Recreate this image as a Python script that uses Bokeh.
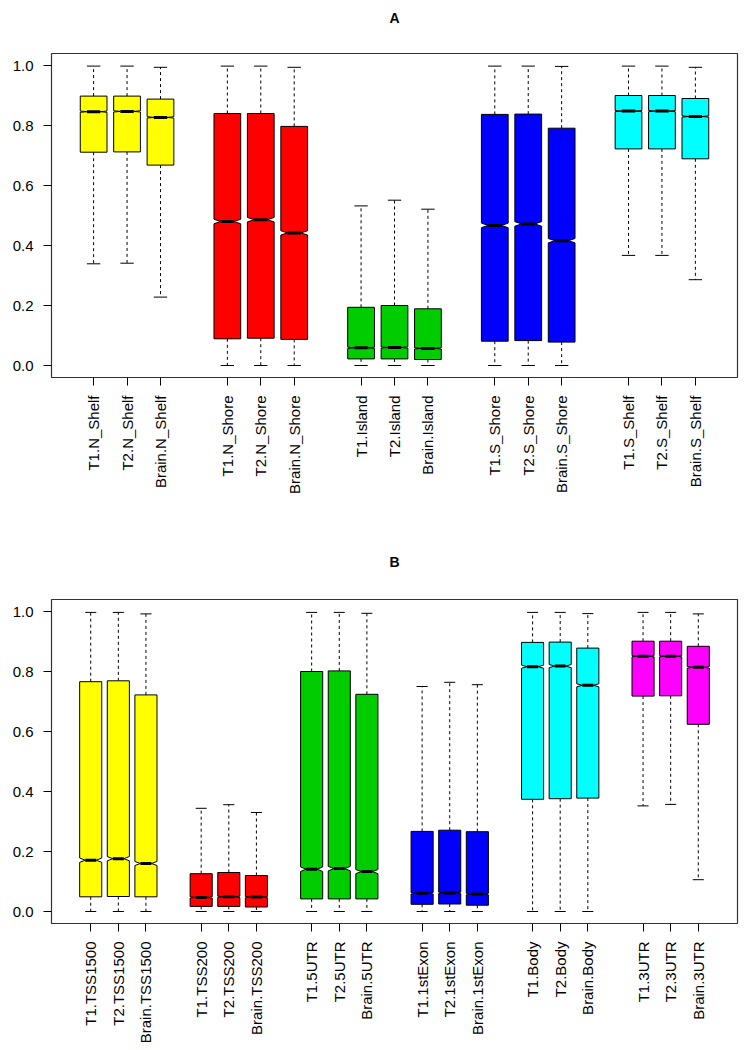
import math
from bokeh.plotting import figure
from bokeh.layouts import column
from bokeh.models import Range1d, FixedTicker, PrintfTickFormatter, LinearAxis
from bokeh.embed import file_html
from bokeh.resources import INLINE

# ---------------- Panel A data ----------------
a_names = ["T1.N_Shelf", "T2.N_Shelf", "Brain.N_Shelf",
           "T1.N_Shore", "T2.N_Shore", "Brain.N_Shore",
           "T1.Island", "T2.Island", "Brain.Island",
           "T1.S_Shore", "T2.S_Shore", "Brain.S_Shore",
           "T1.S_Shelf", "T2.S_Shelf", "Brain.S_Shelf"]
a_colors = ["#FFFF00", "#FF0000", "#00CD00", "#0000FF", "#00FFFF"]
a_lo = [0.339, 0.341, 0.228, 0.0, 0.0, 0.0, 0.0, 0.0, 0.0, 0.0, 0.0, 0.0, 0.367, 0.367, 0.286]
a_q1 = [0.711, 0.712, 0.668, 0.089, 0.091, 0.087, 0.022, 0.022, 0.020, 0.081, 0.083, 0.078, 0.722, 0.722, 0.689]
a_med = [0.846, 0.847, 0.827, 0.480, 0.486, 0.442, 0.059, 0.060, 0.057, 0.467, 0.472, 0.416, 0.848, 0.848, 0.830]
a_q3 = [0.898, 0.898, 0.888, 0.840, 0.840, 0.797, 0.194, 0.200, 0.189, 0.837, 0.838, 0.791, 0.900, 0.900, 0.890]
a_hi = [0.998, 0.998, 0.994, 0.998, 0.998, 0.994, 0.532, 0.551, 0.521, 0.998, 0.998, 0.997, 0.998, 0.998, 0.994]

# ---------------- Panel B data ----------------
b_names = ["T1.TSS1500", "T2.TSS1500", "Brain.TSS1500",
           "T1.TSS200", "T2.TSS200", "Brain.TSS200",
           "T1.5UTR", "T2.5UTR", "Brain.5UTR",
           "T1.1stExon", "T2.1stExon", "Brain.1stExon",
           "T1.Body", "T2.Body", "Brain.Body",
           "T1.3UTR", "T2.3UTR", "Brain.3UTR"]
b_colors = ["#FFFF00", "#FF0000", "#00CD00", "#0000FF", "#00FFFF", "#FF00FF"]
b_lo = [0.0, 0.0, 0.0, 0.0, 0.0, 0.0, 0.0, 0.0, 0.0, 0.0, 0.0, 0.0, 0.0, 0.0, 0.0, 0.352, 0.357, 0.106]
b_q1 = [0.049, 0.050, 0.049, 0.017, 0.017, 0.015, 0.042, 0.042, 0.042, 0.024, 0.025, 0.021, 0.374, 0.376, 0.378, 0.718, 0.719, 0.624]
b_med = [0.171, 0.176, 0.160, 0.047, 0.049, 0.048, 0.141, 0.143, 0.133, 0.061, 0.062, 0.058, 0.816, 0.818, 0.754, 0.851, 0.851, 0.814]
b_q3 = [0.766, 0.769, 0.722, 0.126, 0.130, 0.120, 0.800, 0.802, 0.724, 0.267, 0.271, 0.266, 0.897, 0.898, 0.878, 0.901, 0.901, 0.884]
b_hi = [0.997, 0.997, 0.992, 0.344, 0.356, 0.330, 0.997, 0.997, 0.994, 0.750, 0.764, 0.756, 0.997, 0.997, 0.993, 0.997, 0.997, 0.992]

FONT = "Liberation Sans"


def panel(title, names, colors, lo, q1, med, q3, hi, top_border, bottom_border, frame_h, title_gap):
    n = len(names)
    pos = [(i // 3) * 4 + (i % 3) + 1 for i in range(n)]
    fill = [colors[i // 3] for i in range(n)]
    npos = pos[-1]
    xr = Range1d(0.5 - npos * 0.04, npos + 0.5 + npos * 0.04)
    yr = Range1d(-0.04, 1.04)
    p = figure(frame_width=686, frame_height=frame_h, x_range=xr, y_range=yr,
               output_backend="svg", toolbar_location=None,
               min_border_left=51, min_border_right=12,
               min_border_top=top_border, min_border_bottom=bottom_border,
               background_fill_color="white", border_fill_color="white")
    p.outline_line_color = "#333333"
    p.outline_line_width = 1.2
    p.xgrid.visible = False
    p.ygrid.visible = False

    w = 0.4
    xs, ys = [], []
    for i in range(n):
        x = pos[i]
        nh = max(0.01 * (q3[i] - q1[i]), 0.002)
        xs.append([x - w, x - w, x - w / 2, x - w, x - w, x + w, x + w, x + w / 2, x + w, x + w])
        ys.append([q1[i], med[i] - nh, med[i], med[i] + nh, q3[i], q3[i], med[i] + nh, med[i], med[i] - nh, q1[i]])
    # whiskers
    p.segment(x0=pos, y0=q3, x1=pos, y1=hi, line_color="black", line_width=1, line_dash="3 3")
    p.segment(x0=pos, y0=q1, x1=pos, y1=lo, line_color="black", line_width=1, line_dash="3 3")
    # staples
    sx0 = [x - w / 2 for x in pos]
    sx1 = [x + w / 2 for x in pos]
    p.segment(x0=sx0, y0=hi, x1=sx1, y1=hi, line_color="black", line_width=1)
    p.segment(x0=sx0, y0=lo, x1=sx1, y1=lo, line_color="black", line_width=1)
    # boxes
    p.patches(xs=xs, ys=ys, fill_color=fill, line_color="black", line_width=1)
    # medians
    p.segment(x0=sx0, y0=med, x1=sx1, y1=med, line_color="black", line_width=3)

    xbelow = p.below[0]
    yleft = p.left[0]

    # panel title, drawn as the label of an empty axis above the frame
    tax = LinearAxis(axis_label=title, ticker=FixedTicker(ticks=[]), axis_line_color=None,
                     major_tick_out=0, major_tick_in=0, minor_tick_out=0, minor_tick_in=0,
                     major_label_standoff=0,
                     axis_label_standoff=title_gap, axis_label_text_font=FONT,
                     axis_label_text_font_size="14px", axis_label_text_font_style="bold",
                     axis_label_text_color="black")
    p.add_layout(tax, "above")

    # axes
    xbelow.ticker = FixedTicker(ticks=pos)
    xbelow.major_label_overrides = {pos[i]: names[i] for i in range(n)}
    xbelow.major_label_orientation = math.pi / 2
    yleft.ticker = FixedTicker(ticks=[0.0, 0.2, 0.4, 0.6, 0.8, 1.0])
    yleft.formatter = PrintfTickFormatter(format="%.1f")
    for ax in (xbelow, yleft):
        ax.axis_line_color = None
        ax.major_tick_out = 8
        ax.major_tick_in = 0
        ax.minor_tick_line_color = None
        ax.major_tick_line_color = "black"
        ax.major_label_text_font = FONT
        ax.major_label_text_font_size = "15px"
        ax.major_label_text_color = "black"
        ax.major_label_standoff = 10
    return p


pa = panel("A", a_names, a_colors, a_lo, a_q1, a_med, a_q3, a_hi, 53, 163, 324, 28)
pb = panel("B", b_names, b_colors, b_lo, b_q1, b_med, b_q3, b_hi, 59, 124, 324, 30)

layout = column(pa, pb, spacing=0)
open("out.html", "w").write(file_html(layout, INLINE))
